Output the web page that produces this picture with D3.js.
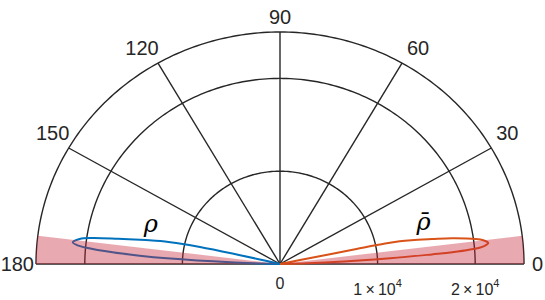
<!DOCTYPE html>
<html>
<head>
<meta charset="utf-8">
<script src="https://cdn.jsdelivr.net/npm/d3@7"></script>
<style>
  body { margin: 0; background: #fff; }
  svg { display: block; }
</style>
</head>
<body>
<div id="app"></div>
<script>
// angular grid
const angleTicks = [0, 30, 60, 90, 120, 150, 180];
const angleLabels = ["0", "30", "60", "90", "120", "150", "180"];
// radial grid (rings), last one is the outer edge
const radialTicks = [10000, 20000, 25000];
const radialLabels = [
  { value: 0, base: "0", exp: "" },
  { value: 10000, base: "1\u2009\u00d7\u200910", exp: "4" },
  { value: 20000, base: "2\u2009\u00d7\u200910", exp: "4" }
];
const rMax = 25000;

// shaded sectors (degrees)
const shadeSectors = [[0, 7], [173, 180]];

// rho lobe (left side), angle in degrees, radius in raw units
const rhoAngle = [178.5, 178.2, 177.94, 176.96, 176.44, 175.8, 174.94, 174.4, 173.72,
  172.5, 171.7, 170.7, 169.4, 168.6, 167.8, 167.4, 167.0, 166.7, 166.6];
const rhoRadius = [0, 2000, 5100, 11600, 14400, 17200, 19900, 20900, 21360,
  20700, 19400, 16800, 14000, 12500, 10200, 8400, 5000, 2000, 0];

// rho-bar lobe (right side)
const rhoBarAngle = [1.5, 1.8, 2.0, 3.1, 3.8, 4.1, 4.96, 5.5, 6.05,
  7.0, 7.7, 9.0, 9.8, 10.8, 11.3, 11.6, 11.7, 11.7, 11.7];
const rhoBarRadius = [0, 2000, 5100, 11300, 15600, 17700, 20600, 21200, 21460,
  21000, 20200, 17800, 15800, 13700, 12500, 11000, 8000, 4000, 0];

const width = 545;
const height = 300;
const cx = 280;
const cy = 264;

const rx = d3.scaleLinear().domain([0, rMax]).range([0, 244]);
const ry = d3.scaleLinear().domain([0, rMax]).range([0, 232]);
const rad = (a) => (a * Math.PI) / 180;
const px = (a, r) => cx + rx(r) * Math.cos(rad(a));
const py = (a, r) => cy - ry(r) * Math.sin(rad(a));

const svg = d3.select("#app").append("svg")
  .attr("width", width).attr("height", height);

const grid = svg.append("g")
  .attr("fill", "none").attr("stroke", "#262626").attr("stroke-width", 1.4);

// rings
const arcLine = d3.line().x((d) => d[0]).y((d) => d[1]);
radialTicks.forEach((r) => {
  grid.append("path")
    .attr("d", arcLine(d3.range(0, 180.5, 1).map((a) => [px(a, r), py(a, r)])));
});

// spokes
grid.selectAll("line")
  .data(angleTicks)
  .join("line")
  .attr("x1", cx).attr("y1", cy)
  .attr("x2", (a) => px(a, rMax))
  .attr("y2", (a) => py(a, rMax));

// lobes
const lobe = d3.line().curve(d3.curveCatmullRom.alpha(0.5));
const rhoPts = rhoAngle.map((a, i) => [px(a, rhoRadius[i]), py(a, rhoRadius[i])]);
const rhoBarPts = rhoBarAngle.map((a, i) => [px(a, rhoBarRadius[i]), py(a, rhoBarRadius[i])]);

svg.append("path").attr("d", lobe(rhoPts))
  .attr("fill", "none").attr("stroke", "#0072BD").attr("stroke-width", 2);
svg.append("path").attr("d", lobe(rhoBarPts))
  .attr("fill", "none").attr("stroke", "#D95319").attr("stroke-width", 2);

// shaded sectors on top
shadeSectors.forEach(([a0, a1]) => {
  const pts = [[cx, cy]].concat(
    d3.range(a0, a1 + 0.01, 0.5).map((a) => [px(a, rMax), py(a, rMax)])
  );
  svg.append("path")
    .attr("d", arcLine(pts) + "Z")
    .attr("fill", "#c8283a")
    .attr("fill-opacity", 0.4);
});

// angle labels
const font = "Liberation Sans, Arial, Helvetica, sans-serif";
const labelX = (a) => {
  if (a === 0) return px(a, rMax) + 8;
  if (a === 180) return px(a, rMax) - 2;
  const c = Math.cos(rad(a));
  return px(a, rMax) + (Math.abs(c) < 1e-6 ? 0 : 16 * Math.sign(c));
};
const labelY = (a) => (a === 0 || a === 180 ? cy : py(a, rMax) - 15);

svg.append("g")
  .selectAll("text")
  .data(angleTicks)
  .join("text")
  .attr("x", labelX)
  .attr("y", labelY)
  .attr("text-anchor", (a) => (a === 0 ? "start" : a === 180 ? "end" : "middle"))
  .attr("dominant-baseline", "central")
  .attr("font-family", font)
  .attr("font-size", 20)
  .attr("fill", "#262626")
  .text((a, i) => angleLabels[i]);

// radial labels
const rl = svg.append("g")
  .selectAll("text")
  .data(radialLabels)
  .join("text")
  .attr("x", (d) => px(0, d.value))
  .attr("y", (d) => (d.exp ? cy + 31 : cy + 25))
  .attr("text-anchor", "middle")
  .attr("font-family", font)
  .attr("font-size", 16)
  .attr("fill", "#262626");
rl.append("tspan").text((d) => d.base);
rl.append("tspan")
  .attr("font-size", 11)
  .attr("dy", -8)
  .text((d) => d.exp);

// lobe labels
svg.append("text")
  .attr("x", px(180 - 9.6, 13000) - 4).attr("y", py(180 - 9.6, 13000) - 12)
  .attr("text-anchor", "middle")
  .attr("font-family", "DejaVu Serif, serif")
  .attr("font-style", "italic")
  .attr("font-size", 24)
  .attr("fill", "#000")
  .text("ρ");
svg.append("text")
  .attr("x", px(9.6, 14500) + 4).attr("y", py(9.6, 14500) - 12)
  .attr("text-anchor", "middle")
  .attr("font-family", "DejaVu Serif, serif")
  .attr("font-style", "italic")
  .attr("font-size", 24)
  .attr("fill", "#000")
  .text("ρ\u0304");
</script>
</body>
</html>
